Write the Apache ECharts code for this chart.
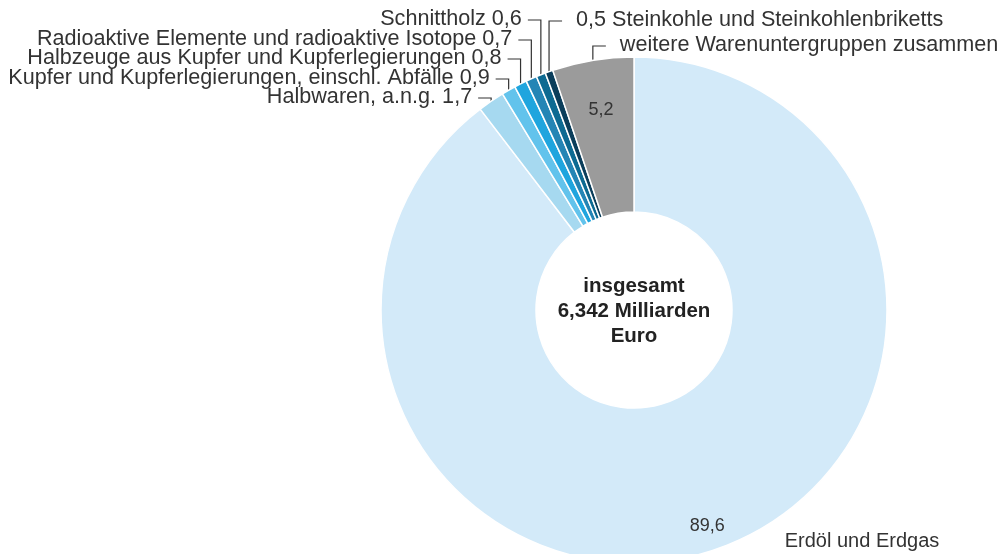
<!DOCTYPE html>
<html>
<head>
<meta charset="utf-8">
<script src="https://cdn.jsdelivr.net/npm/echarts@6/dist/echarts.min.js"></script>
<style>
  html, body { margin: 0; padding: 0; background: #fff; }
  #chart { width: 1008px; height: 554px; }
</style>
</head>
<body>
<div id="chart"></div>
<script>
// Warenuntergruppen, Anteile in %
const names = [
  'Erdöl und Erdgas',
  'Halbwaren, a.n.g.',
  'Kupfer und Kupferlegierungen, einschl. Abfälle',
  'Halbzeuge aus Kupfer und Kupferlegierungen',
  'Radioaktive Elemente und radioaktive Isotope',
  'Schnittholz',
  'Steinkohle und Steinkohlenbriketts',
  'weitere Warenuntergruppen zusammen'
]
const values = [89.6, 1.7, 0.9, 0.8, 0.7, 0.6, 0.5, 5.2]
const colors = ['#d3eaf9', '#a6d9f0', '#62c3ec', '#1fa5de', '#2485b5', '#0d6a92', '#0b3e5b', '#9b9b9b']
const centerText = 'insgesamt\n6,342 Milliarden\nEuro'

// Geometrie
const CX = 634, CY = 310, R_IN = 98, R_OUT = 253
// Zeilen der Beschriftung oben (y), Seite
const rowY = { 1: 97, 2: 78, 3: 58, 4: 39, 5: 19, 6: 20, 7: 45 }
const rightSide = { 6: true, 7: true }

const fmt = (v) => String(v).replace('.', ',')
const total = values.reduce((a, b) => a + b, 0)

function midAngle(i) {
  let s = 0
  for (let k = 0; k < i; k++) s += values[k]
  return ((s + values[i] / 2) / total) * 2 * Math.PI
}
function pt(i, r) {
  const a = midAngle(i)
  return [CX + r * Math.sin(a), CY - r * Math.cos(a)]
}

const font = '"Liberation Sans", Arial, sans-serif'

const outerData = names.map((n, i) => {
  let text = n + ' ' + fmt(values[i])
  if (i === 6) text = fmt(values[i]) + ' ' + n
  if (i === 7 || i === 0) text = n
  return {
    name: n,
    value: values[i],
    itemStyle: { color: colors[i] },
    label: { formatter: text, fontSize: i === 0 ? 20 : 21.6 },
    labelLine: { show: i !== 0 }
  }
})

const innerData = names.map((n, i) => ({
  name: n,
  value: values[i],
  label: { show: i === 0 || i === 7, formatter: fmt(values[i]) }
}))

const chart = echarts.init(document.getElementById('chart'))
chart.setOption({
  backgroundColor: '#fff',
  animation: false,
  series: [
    {
      type: 'pie',
      center: [CX, CY],
      radius: [R_IN, R_OUT],
      startAngle: 90,
      clockwise: true,
      avoidLabelOverlap: false,
      silent: true,
      itemStyle: { borderColor: '#fff', borderWidth: 1.5 },
      label: {
        show: true,
        position: 'outside',
        color: '#333',
        fontFamily: font,
        fontSize: 21.6
      },
      labelLine: { show: true, lineStyle: { color: '#333', width: 1.2 } },
      labelLayout: function (p) {
        const i = p.dataIndex
        if (i === 0) {
          return { x: 862, y: 541, align: 'center', verticalAlign: 'middle' }
        }
        const e = pt(i, R_OUT)
        const y = rowY[i]
        if (rightSide[i]) {
          return {
            x: e[0] + 27, y: y, align: 'left', verticalAlign: 'middle',
            labelLinePoints: [e, [e[0], y + 1], [e[0] + 13, y + 1]]
          }
        }
        return {
          x: e[0] - 19, y: y, align: 'right', verticalAlign: 'middle',
          labelLinePoints: [e, [e[0], y + 1], [e[0] - 13, y + 1]]
        }
      },
      data: outerData
    },
    {
      type: 'pie',
      center: [CX, CY],
      radius: [R_IN, R_OUT],
      startAngle: 90,
      clockwise: true,
      silent: true,
      avoidLabelOverlap: false,
      itemStyle: { color: 'rgba(0,0,0,0)', borderWidth: 0 },
      label: {
        position: 'inside',
        color: '#333',
        fontFamily: font,
        fontSize: 18
      },
      labelLine: { show: false },
      labelLayout: function (p) {
        const i = p.dataIndex
        const c = pt(i, i === 0 ? 228 : 203)
        return { x: c[0], y: c[1], align: 'center', verticalAlign: 'middle' }
      },
      data: innerData
    }
  ],
  graphic: [
    {
      type: 'text',
      x: CX,
      y: CY + 1,
      style: {
        text: centerText,
        fill: '#222',
        font: 'bold 20.5px ' + font,
        align: 'center',
        verticalAlign: 'middle',
        lineHeight: 25
      }
    }
  ]
})
</script>
</body>
</html>
